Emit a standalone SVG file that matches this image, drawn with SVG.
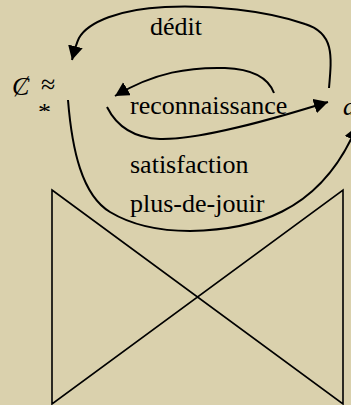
<svg xmlns="http://www.w3.org/2000/svg" width="351" height="405" viewBox="0 0 351 405">
<style>
.t{font-family:"Liberation Serif","Times New Roman","DejaVu Serif",serif;font-size:26px;fill:#000}
.i{font-style:italic}
.c{fill:none;stroke:#000;stroke-width:2}
.b{fill:none;stroke:#000;stroke-width:1.6}
</style>
<defs>
<marker id="ah" markerUnits="userSpaceOnUse" markerWidth="16" markerHeight="16" refX="14" refY="7.5" orient="auto">
<path d="M0,0 L14,7.5 L0,15 z" fill="#000"/>
</marker>
<clipPath id="clipStar"><rect x="30" y="99" width="30" height="12"/></clipPath>
</defs>
<rect width="351" height="405" fill="#DAD1AD"/>
<g id="nodeC">
<text class="t i" x="12" y="95">Ȼ</text>
<text class="t" x="41" y="93">≈</text>
<text class="t" x="38" y="121" clip-path="url(#clipStar)">*</text>
</g>
<g id="nodeA">
<text class="t i" x="343" y="115">a</text>
</g>
<g id="labels">
<text class="t" x="150" y="35">dédit</text>
<text class="t" x="130" y="114">reconnaissance</text>
<text class="t" x="130" y="173">satisfaction</text>
<text class="t" x="130" y="212">plus-de-jouir</text>
</g>
<g id="connectors">
<path class="c" marker-end="url(#ah)" d="M329,88 C332,55 334,33 305,24 C265,10 210,5 165,7 C120,9 88,22 79,38 C76,44 74,52 72,60"/>
<path class="c" marker-end="url(#ah)" d="M274,93 C268,77 252,69 225,68 C190,67 155,72 115,96"/>
<path class="c" marker-end="url(#ah)" d="M107,107 C117,127 135,138 160,139 C200,140 270,120 328,102"/>
<path class="c" marker-end="url(#ah)" d="M68,100 C72,150 82,195 110,212 C135,227 165,231 190,231 C250,230 320,215 357,126"/>
</g>
<g id="bowtie">
<polygon class="b" points="52,190 343,404 343,190 52,404"/>
</g>
</svg>
